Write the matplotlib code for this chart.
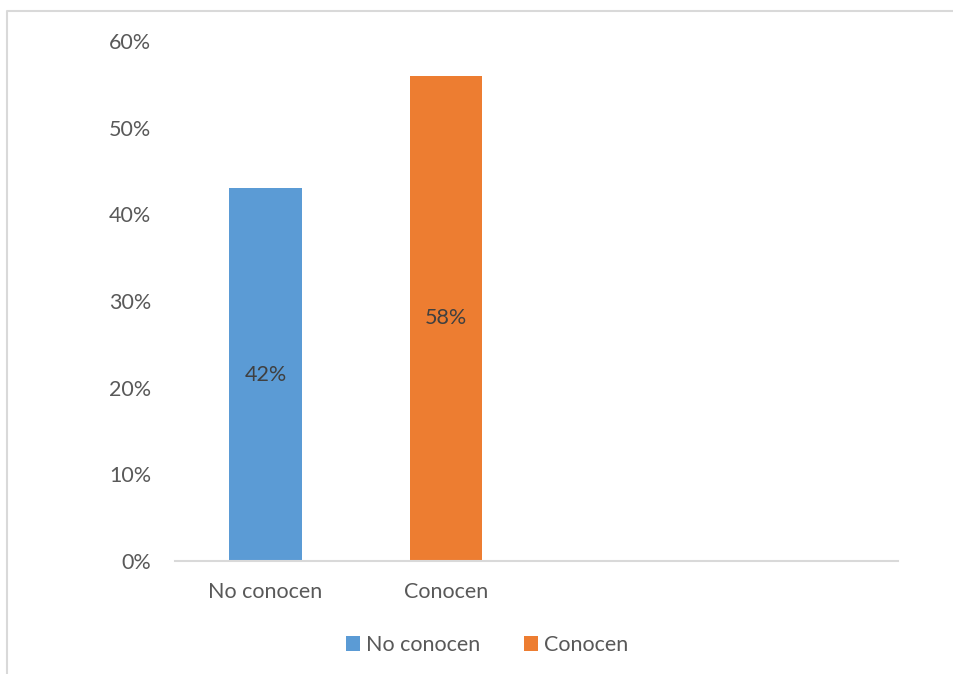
import matplotlib.pyplot as plt
from matplotlib.lines import Line2D
from matplotlib.ticker import PercentFormatter

# data
categories = ['No conocen', 'Conocen', '', '']
heights = [0.43, 0.56]
bar_labels = ['42%', '58%']
colors = ['#5B9BD5', '#ED7D31']

plt.rcParams['font.family'] = ['Lato', 'DejaVu Sans']
text_color = '#595959'
fs = 15.5

fig = plt.figure(figsize=(9.55, 6.74), dpi=100)
ax = fig.add_axes([175 / 955, 1 - 561 / 674, (898 - 175) / 955, (561 - 41) / 674])

# outer chart border: only the left and top edges are inside the image
bx, by = 7 / 955, 1 - 11 / 674
fig.add_artist(Line2D([bx, bx, 953 / 955], [0.0, by, by], transform=fig.transFigure,
                      color='#D9D9D9', linewidth=1.5, solid_capstyle='butt'))

x = range(len(heights))
bars = ax.bar(x, heights, width=0.4, color=colors, label=categories[:2])
for b, lab in zip(bars, bar_labels):
    ax.text(b.get_x() + b.get_width() / 2, b.get_height() / 2, lab,
            ha='center', va='center', fontsize=fs, color='#404040')

ax.set_xlim(-0.5, 3.5)
ax.set_ylim(0, 0.6)
ax.set_yticks([0, 0.1, 0.2, 0.3, 0.4, 0.5, 0.6])
ax.yaxis.set_major_formatter(PercentFormatter(1.0, decimals=0))
ax.set_xticks(range(len(categories)))
ax.set_xticklabels(categories)
ax.tick_params(axis='both', length=0, labelsize=fs, labelcolor=text_color)
ax.tick_params(axis='y', pad=17)
ax.tick_params(axis='x', pad=15)

for s in ['top', 'right', 'left']:
    ax.spines[s].set_visible(False)
ax.spines['bottom'].set_color('#D9D9D9')
ax.spines['bottom'].set_linewidth(1.5)

leg = fig.legend(handles=list(bars), labels=categories[:2], loc='center',
                 bbox_to_anchor=(487 / 955, 1 - 645 / 674), ncol=2,
                 frameon=False, fontsize=fs, handlelength=0.65, handleheight=0.65,
                 handletextpad=0.3, columnspacing=2.0)
for t in leg.get_texts():
    t.set_color(text_color)

fig.savefig('out.png', dpi=100)
